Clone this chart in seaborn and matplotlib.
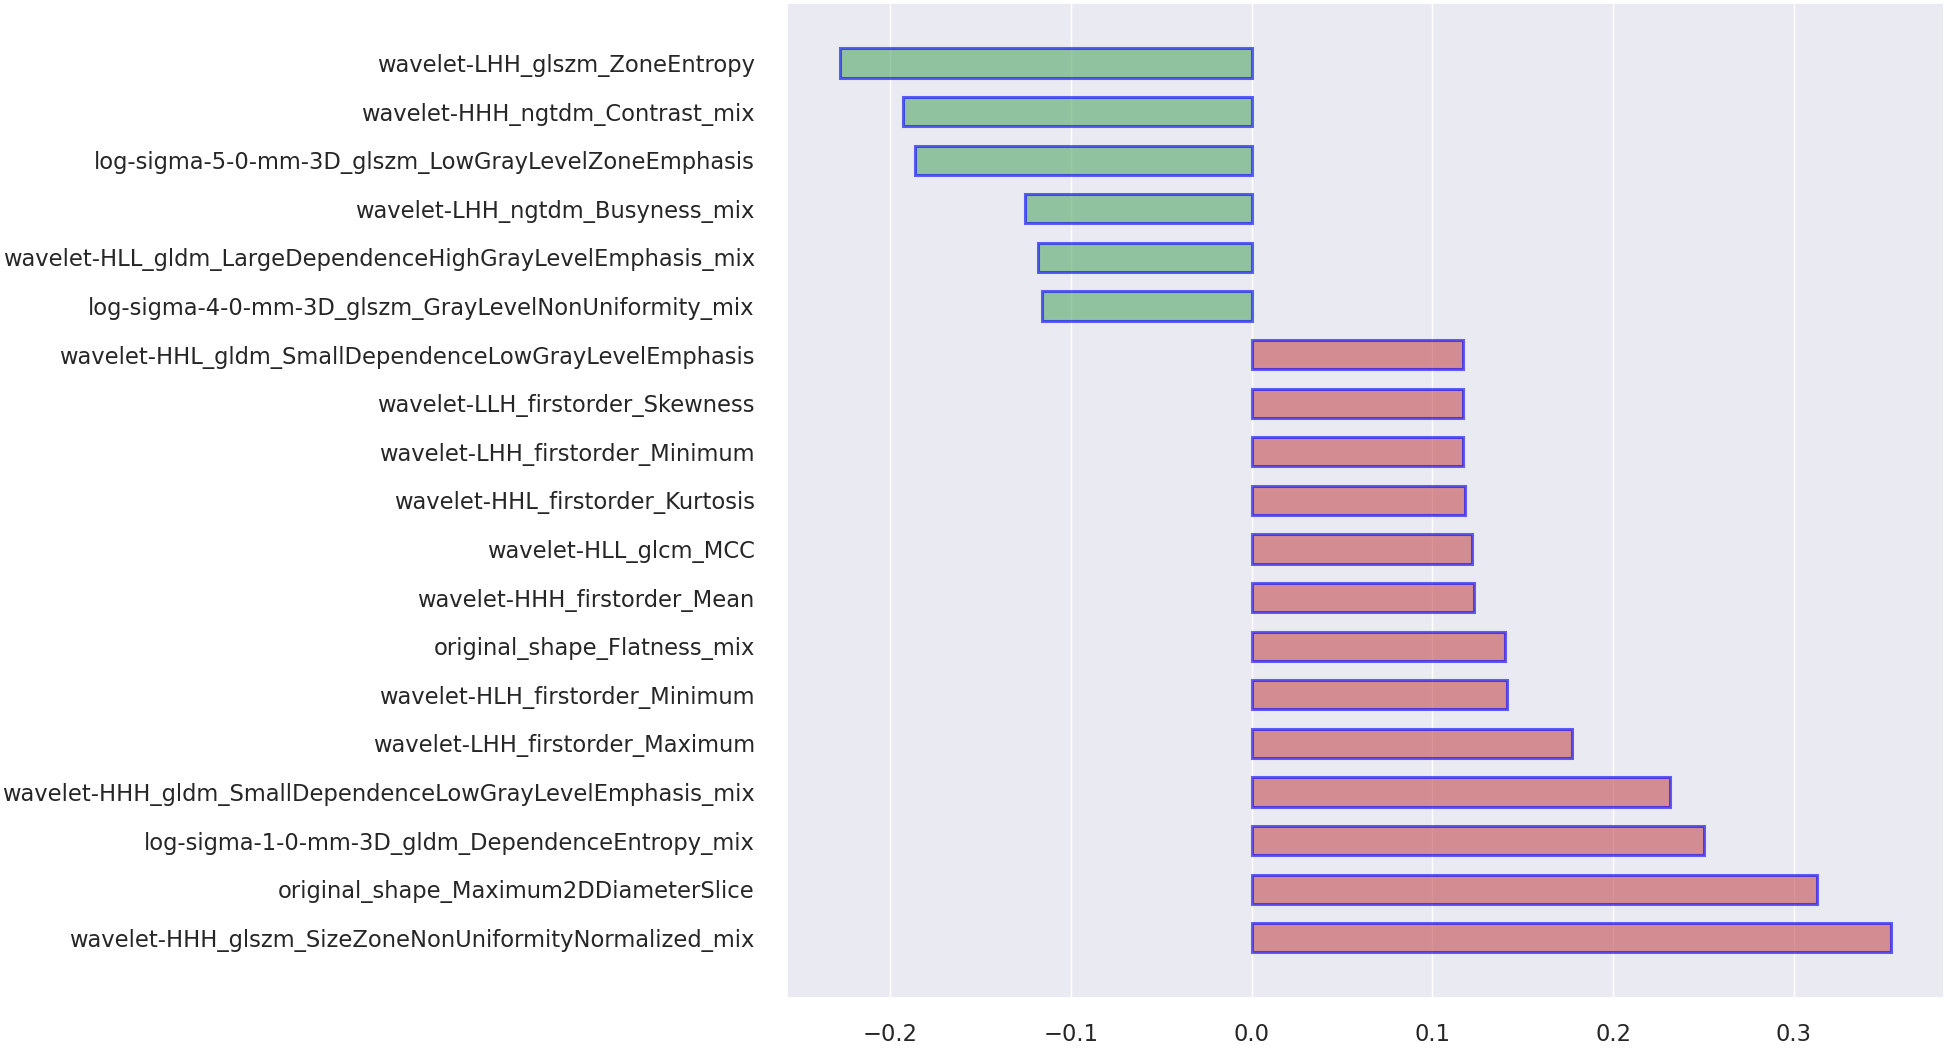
import matplotlib
matplotlib.use("Agg")
import matplotlib.pyplot as plt
import pandas as pd
import seaborn as sns

# features listed top to bottom as drawn
features = [
    "wavelet-LHH_glszm_ZoneEntropy",
    "wavelet-HHH_ngtdm_Contrast_mix",
    "log-sigma-5-0-mm-3D_glszm_LowGrayLevelZoneEmphasis",
    "wavelet-LHH_ngtdm_Busyness_mix",
    "wavelet-HLL_gldm_LargeDependenceHighGrayLevelEmphasis_mix",
    "log-sigma-4-0-mm-3D_glszm_GrayLevelNonUniformity_mix",
    "wavelet-HHL_gldm_SmallDependenceLowGrayLevelEmphasis",
    "wavelet-LLH_firstorder_Skewness",
    "wavelet-LHH_firstorder_Minimum",
    "wavelet-HHL_firstorder_Kurtosis",
    "wavelet-HLL_glcm_MCC",
    "wavelet-HHH_firstorder_Mean",
    "original_shape_Flatness_mix",
    "wavelet-HLH_firstorder_Minimum",
    "wavelet-LHH_firstorder_Maximum",
    "wavelet-HHH_gldm_SmallDependenceLowGrayLevelEmphasis_mix",
    "log-sigma-1-0-mm-3D_gldm_DependenceEntropy_mix",
    "original_shape_Maximum2DDiameterSlice",
    "wavelet-HHH_glszm_SizeZoneNonUniformityNormalized_mix",
]
coefs = [
    -0.2278, -0.193, -0.1864, -0.1253, -0.1184, -0.116,
    0.117, 0.117, 0.117, 0.118, 0.122, 0.1233, 0.140, 0.1414,
    0.1773, 0.2313, 0.2502, 0.313, 0.354,
]

sns.set()  # darkgrid + color codes

df = pd.DataFrame({"feature": features, "coef": coefs})
df["sign"] = ["neg" if c < 0 else "pos" for c in df["coef"]]

fig = plt.figure(figsize=(19.44, 10.48), dpi=100)
ax = fig.add_axes([0.405, 0.048, 0.595, 0.949])

sns.barplot(
    data=df,
    x="coef",
    y="feature",
    hue="sign",
    palette={"neg": "g", "pos": "r"},
    saturation=1,
    dodge=False,
    legend=False,
    width=0.6,
    alpha=0.6,
    edgecolor="blue",
    linewidth=2.2,
    ax=ax,
)

n = len(features)
ax.set_ylim(n - 1 + 1.23, -1.23)
ax.set_xlabel("")
ax.set_ylabel("")
ax.tick_params(axis="both", labelsize=16.3)
ax.tick_params(axis="y", pad=17.5)
ax.tick_params(axis="x", pad=12)

fig.savefig("out.png", dpi=100)
